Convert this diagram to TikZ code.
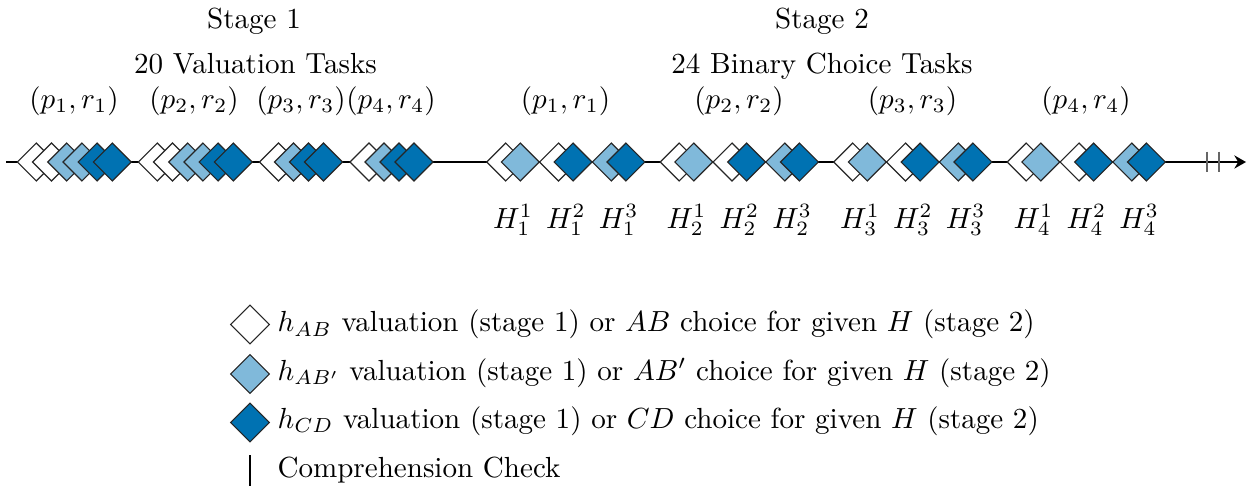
\documentclass[tikz,border=0pt]{standalone}
\usetikzlibrary{shapes.geometric,arrows.meta}
\definecolor{lightb}{RGB}{128,185,218}
\definecolor{darkb}{RGB}{0,114,178}
\begin{document}
\begin{tikzpicture}[x=0.3440pt,y=-0.3440pt,
  task/.style={diamond,draw=black!85,line width=0.4pt,minimum width=13.2pt,minimum height=13.2pt,inner sep=0pt},
  lbl/.style={anchor=base,inner sep=0pt},
  leg/.style={anchor=base west,inner sep=0pt},
  tick/.style={draw=black!60,line width=0.7pt},
  timeline/.style={line width=0.8pt,-{Stealth[length=4pt,width=4.5pt]}}
]
\useasboundingbox (0,0) rectangle (1253,487);
% timeline
\coordinate (tstart) at (6,162);
\coordinate (tend) at (1246,162);
\draw[timeline] (tstart) -- (tend);
% stage 1
\foreach \c [count=\i] in {white,white,lightb,lightb,darkb,darkb}
  \node[task,fill=\c] (sa\i) at ({36.3+15.2*(\i-1)},162) {};
\foreach \c [count=\i] in {white,white,lightb,lightb,darkb,darkb}
  \node[task,fill=\c] (sb\i) at ({157.3+15.2*(\i-1)},162) {};
\foreach \c [count=\i] in {white,lightb,darkb,darkb}
  \node[task,fill=\c] (sc\i) at ({278.5+15*(\i-1)},162) {};
\foreach \c [count=\i] in {white,lightb,darkb,darkb}
  \node[task,fill=\c] (sd\i) at ({369+15*(\i-1)},162) {};
% stage 2
\foreach \g in {1,2,3,4}{
  \pgfmathsetmacro{\b}{486.7+173.5*(\g-1)}
  \node[task,fill=white]  (t\g a1) at ({\b+19},162) {};
  \node[task,fill=lightb] (t\g a2) at ({\b+19+14.6},162) {};
  \node[task,fill=white]  (t\g b1) at ({\b+19+52.8},162) {};
  \node[task,fill=darkb]  (t\g b2) at ({\b+19+52.8+14.6},162) {};
  \node[task,fill=lightb] (t\g c1) at ({\b+19+105.6},162) {};
  \node[task,fill=darkb]  (t\g c2) at ({\b+19+105.6+14.6},162) {};
  \node[lbl] (h\g a) at ({\b+26.3},228) {$H_{\g}^{1}$};
  \node[lbl] (h\g b) at ({\b+26.3+52.8},228) {$H_{\g}^{2}$};
  \node[lbl] (h\g c) at ({\b+26.3+105.6},228) {$H_{\g}^{3}$};
  \node[lbl] (q\g) at ({\b+78.8},108) {$(p_{\g},r_{\g})$};
}
% stage 1 labels
\node[lbl] (pa) at (74,108) {$(p_1,r_1)$};
\node[lbl] (pb) at (194,108) {$(p_2,r_2)$};
\node[lbl] (pc) at (301,108) {$(p_3,r_3)$};
\node[lbl] (pd) at (391,108) {$(p_4,r_4)$};
\node[lbl] (st1) at (254,28) {Stage 1};
\node[lbl] (st1b) at (255.5,73) {20 Valuation Tasks};
\node[lbl] (st2) at (822,28) {Stage 2};
\node[lbl] (st2b) at (822,73) {24 Binary Choice Tasks};
% ticks
\coordinate (k1a) at (1207.3,151.7);
\coordinate (k1b) at (1207.3,172.3);
\coordinate (k2a) at (1219,151.7);
\coordinate (k2b) at (1219,172.3);
\draw[tick] (k1a) -- (k1b);
\draw[tick] (k2a) -- (k2b);
% legend
\node[task,fill=white,minimum width=13.5pt,minimum height=13.5pt] (l1) at (250,324.5) {};
\node[task,fill=lightb,minimum width=13.5pt,minimum height=13.5pt] (l2) at (250,374) {};
\node[task,fill=darkb,minimum width=13.5pt,minimum height=13.5pt] (l3) at (250,422.5) {};
\coordinate (l4a) at (250,455);
\coordinate (l4b) at (250,486);
\draw[line width=0.4pt] (l4a) -- (l4b);
\node[leg] (lt1) at (277,331.7) {$h_{AB}$ valuation (stage 1) or $AB$ choice for given $H$ (stage 2)};
\node[leg] (lt2) at (277,380.5) {$h_{AB'}$ valuation (stage 1) or $AB'$ choice for given $H$ (stage 2)};
\node[leg] (lt3) at (277,428.5) {$h_{CD}$ valuation (stage 1) or $CD$ choice for given $H$ (stage 2)};
\node[leg] (lt4) at (277,477) {Comprehension Check};
\end{tikzpicture}
\end{document}
